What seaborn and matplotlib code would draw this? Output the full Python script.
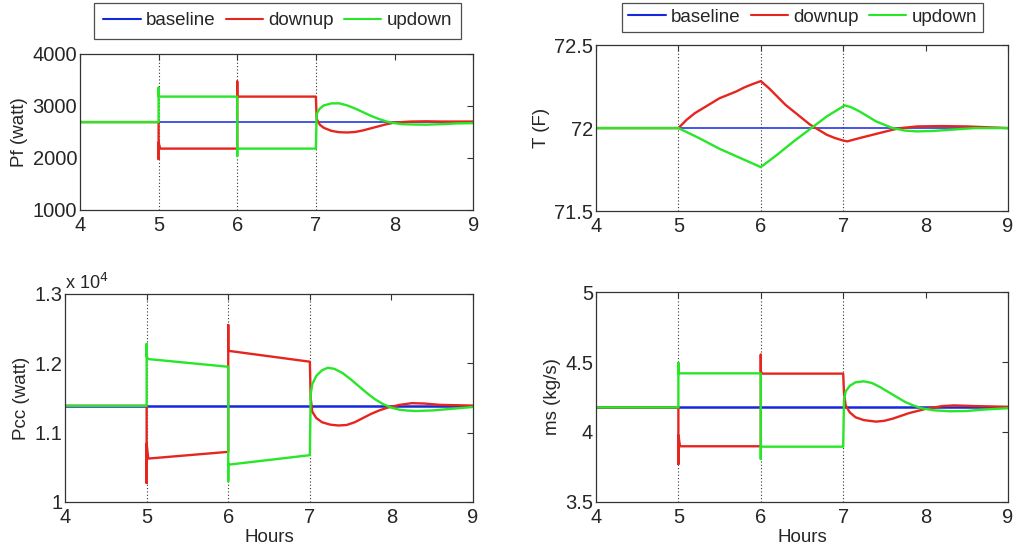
import numpy as np
import pandas as pd
import matplotlib
matplotlib.use("Agg")
import matplotlib.pyplot as plt
import seaborn as sns
from matplotlib.ticker import FuncFormatter, FixedLocator

# ---- data (hours, value) ----
# Pf (watt)
pf_base_x = [4, 9]
pf_base_y = [2690, 2690]
pf_down_x = [4, 5, 5, 5, 5.02, 6, 6, 6, 6.02, 7, 7.01, 7.05, 7.1, 7.2, 7.3, 7.4, 7.5, 7.6, 7.7, 7.8, 7.9, 8.0, 8.2, 8.4, 8.6, 9]
pf_down_y = [2690, 2690, 1980, 2300, 2180, 2180, 3470, 3200, 3180, 3180, 2750, 2640, 2580, 2520, 2495, 2490, 2500, 2530, 2570, 2610, 2650, 2680, 2700, 2705, 2700, 2700]
pf_up_x = [4, 5, 5, 5, 5.02, 6, 6, 6, 6.02, 7, 7.01, 7.05, 7.1, 7.2, 7.3, 7.4, 7.5, 7.6, 7.7, 7.8, 7.9, 8.0, 8.1, 8.2, 8.4, 8.6, 8.8, 9]
pf_up_y = [2690, 2690, 3350, 3180, 3180, 3180, 2040, 2200, 2180, 2180, 2850, 2950, 3010, 3050, 3050, 3010, 2950, 2880, 2810, 2750, 2700, 2670, 2650, 2645, 2640, 2650, 2665, 2670]

# T (F)
t_base_x = [4, 9]
t_base_y = [72.0, 72.0]
t_down_x = [4, 5, 5.1, 5.2, 5.3, 5.4, 5.5, 5.6, 5.7, 5.8, 5.9, 6.0, 6.1, 6.2, 6.3, 6.4, 6.5, 6.6, 6.7, 6.8, 6.9, 7.0, 7.05, 7.2, 7.4, 7.6, 7.7, 7.9, 8.2, 8.5, 9]
t_down_y = [72.0, 72.0, 72.05, 72.09, 72.12, 72.15, 72.18, 72.2, 72.22, 72.245, 72.265, 72.283, 72.24, 72.19, 72.14, 72.10, 72.06, 72.02, 71.99, 71.96, 71.94, 71.925, 71.92, 71.94, 71.965, 71.99, 72.0, 72.01, 72.012, 72.01, 72.0]
t_up_x = [4, 5, 5.25, 5.5, 5.75, 6.0, 6.2, 6.4, 6.6, 6.8, 7.02, 7.1, 7.2, 7.3, 7.4, 7.5, 7.6, 7.75, 7.9, 8.1, 8.3, 8.6, 9]
t_up_y = [72.0, 72.0, 71.94, 71.875, 71.82, 71.765, 71.84, 71.92, 71.995, 72.07, 72.137, 72.125, 72.1, 72.07, 72.04, 72.02, 72.0, 71.985, 71.98, 71.983, 71.99, 72.0, 72.0]

# Pcc (watt)
pcc_base_x = [4, 9]
pcc_base_y = [11387, 11387]
pcc_down_x = [4, 5, 5, 5, 5.02, 6, 6, 6, 6.02, 7, 7.01, 7.03, 7.08, 7.15, 7.25, 7.35, 7.45, 7.55, 7.65, 7.75, 7.85, 7.95, 8.1, 8.25, 8.4, 8.6, 9]
pcc_down_y = [11387, 11387, 10275, 10840, 10626, 10723, 12552, 12180, 12177, 12023, 11500, 11300, 11210, 11150, 11115, 11103, 11110, 11150, 11210, 11270, 11320, 11360, 11400, 11425, 11420, 11400, 11390]
pcc_up_x = [4, 5, 5, 5, 5.02, 6, 6, 6, 6.02, 7, 7.01, 7.03, 7.08, 7.15, 7.22, 7.3, 7.4, 7.5, 7.6, 7.7, 7.8, 7.9, 8.0, 8.1, 8.2, 8.3, 8.5, 8.7, 8.9, 9]
pcc_up_y = [11387, 11387, 12278, 12100, 12061, 11950, 10299, 10560, 10540, 10675, 11550, 11700, 11820, 11900, 11936, 11920, 11860, 11770, 11670, 11570, 11480, 11410, 11360, 11330, 11318, 11312, 11320, 11340, 11360, 11370]

# ms (kg/s)
ms_base_x = [4, 9]
ms_base_y = [4.176, 4.176]
ms_down_x = [4, 5, 5, 5, 5.02, 6, 6, 6, 6.02, 7, 7.01, 7.03, 7.08, 7.15, 7.25, 7.4, 7.5, 7.6, 7.7, 7.8, 7.9, 8.0, 8.2, 8.35, 8.6, 9]
ms_down_y = [4.176, 4.176, 3.771, 3.976, 3.898, 3.898, 4.552, 4.43, 4.417, 4.417, 4.28, 4.19, 4.14, 4.105, 4.085, 4.074, 4.08, 4.095, 4.115, 4.135, 4.15, 4.165, 4.185, 4.19, 4.185, 4.18]
ms_up_x = [4, 5, 5, 5, 5.02, 6, 6, 6, 6.02, 7, 7.01, 7.03, 7.08, 7.15, 7.25, 7.35, 7.45, 7.55, 7.65, 7.75, 7.85, 7.95, 8.1, 8.3, 8.5, 8.7, 9]
ms_up_y = [4.176, 4.176, 4.493, 4.42, 4.419, 4.419, 3.807, 3.9, 3.895, 3.895, 4.22, 4.29, 4.33, 4.355, 4.362, 4.35, 4.32, 4.285, 4.25, 4.215, 4.19, 4.17, 4.155, 4.148, 4.15, 4.16, 4.17]

series_names = ["baseline", "downup", "updown"]
colors = {"baseline": "#1428dc", "downup": "#e6261e", "updown": "#28e628"}
hour_ticks = [4, 5, 6, 7, 8, 9]
event_hours = [5, 6, 7]


def build_frame(base, down, up):
    parts = []
    for name, (xs, ys) in zip(series_names, [base, down, up]):
        parts.append(pd.DataFrame({"hours": xs, "value": ys, "series": name}))
    return pd.concat(parts, ignore_index=True)


def draw_panel(ax, df, ylim, yticks, ylabel, base_lw, xlabel=None):
    for name in series_names:
        sub = df[df["series"] == name]
        sns.lineplot(data=sub, x="hours", y="value", ax=ax, sort=False, estimator=None,
                     color=colors[name], linewidth=base_lw if name == "baseline" else 1.7,
                     label=name, legend=False)
    for h in event_hours:
        ax.axvline(h, color="#333333", linestyle=(0, (1, 2)), linewidth=0.8, zorder=0)
    ax.set_xlim(4, 9)
    ax.set_ylim(*ylim)
    ax.xaxis.set_major_locator(FixedLocator(hour_ticks))
    ax.yaxis.set_major_locator(FixedLocator(yticks))
    ax.tick_params(direction="in", top=True, right=True, length=4, width=0.8,
                   labelsize=14.5, color="#333333")
    ax.tick_params(axis="x", pad=4)
    ax.tick_params(axis="y", pad=2)
    for s in ax.spines.values():
        s.set_color("#333333")
        s.set_linewidth(0.9)
    ax.set_ylabel(ylabel, fontsize=13.5, labelpad=3)
    ax.set_xlabel(xlabel if xlabel else "", fontsize=13.5, labelpad=2)


sns.set_theme(style="white")
plt.rcParams["font.family"] = ["Liberation Sans", "DejaVu Sans"]

fig = plt.figure(figsize=(10.16, 5.54), dpi=100)
ax_pf = fig.add_axes([0.0787, 0.621, 0.387, 0.2816])
ax_t = fig.add_axes([0.5866, 0.619, 0.4055, 0.2996])
ax_pcc = fig.add_axes([0.064, 0.0939, 0.4016, 0.3755])
ax_ms = fig.add_axes([0.5866, 0.0939, 0.4055, 0.379])

draw_panel(ax_pf, build_frame((pf_base_x, pf_base_y), (pf_down_x, pf_down_y), (pf_up_x, pf_up_y)),
           (1000, 4000), [1000, 2000, 3000, 4000], "Pf (watt)", 1.1)
draw_panel(ax_t, build_frame((t_base_x, t_base_y), (t_down_x, t_down_y), (t_up_x, t_up_y)),
           (71.5, 72.5), [71.5, 72, 72.5], "T (F)", 1.1)
draw_panel(ax_pcc, build_frame((pcc_base_x, pcc_base_y), (pcc_down_x, pcc_down_y), (pcc_up_x, pcc_up_y)),
           (10000, 13000), [10000, 11000, 12000, 13000], "Pcc (watt)", 1.8, "Hours")
draw_panel(ax_ms, build_frame((ms_base_x, ms_base_y), (ms_down_x, ms_down_y), (ms_up_x, ms_up_y)),
           (3.5, 5.0), [3.5, 4, 4.5, 5], "ms (kg/s)", 1.8, "Hours")

fmt = FuncFormatter(lambda v, p: f"{v:g}")
for ax in [ax_pf, ax_t, ax_ms]:
    ax.yaxis.set_major_formatter(fmt)
    ax.xaxis.set_major_formatter(fmt)
ax_pcc.xaxis.set_major_formatter(fmt)
ax_pcc.yaxis.set_major_formatter(FuncFormatter(lambda v, p: f"{v / 1e4:g}"))
ax_pcc.text(0.0, 1.005, "x 10$^4$", transform=ax_pcc.transAxes, fontsize=13, va="bottom", ha="left")

# legends above the top panels
for ax, anchor, pad in [(ax_pf, (0.2731, 0.995), 0.5), (ax_t, (0.7899, 0.995), 0.32)]:
    handles, labels = ax.get_legend_handles_labels()
    leg = fig.legend(handles, labels, loc="upper center", bbox_to_anchor=anchor, ncol=3,
                     fontsize=13.5, frameon=True, fancybox=False, handlelength=2.0,
                     handletextpad=0.27, columnspacing=0.55, borderpad=pad, borderaxespad=0)
    leg.get_frame().set_edgecolor("#222222")
    leg.get_frame().set_linewidth(0.9)
    for line in leg.get_lines():
        line.set_linewidth(1.5)

fig.savefig("out.png", dpi=100)
